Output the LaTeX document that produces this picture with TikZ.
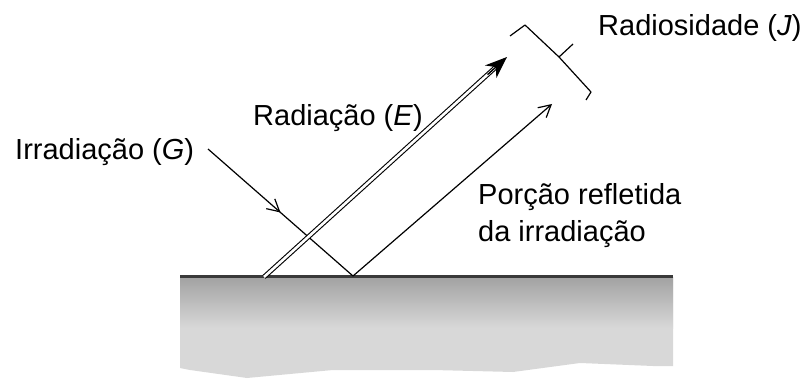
\documentclass[tikz,border=0pt]{standalone}
\usepackage{fontspec}
\setmainfont{Liberation Sans}
\usetikzlibrary{arrows.meta,decorations.markings,calc}
\definecolor{surfline}{HTML}{3A3A3A}
\definecolor{graytop}{HTML}{A2A2A2}
\definecolor{graylow}{HTML}{D8D8D8}
\tikzset{
  lbl/.style={anchor=base west,inner sep=0pt,font=\fontsize{29}{36}\selectfont},
  ray/.style={line width=1.2pt,black},
  openhead/.style={-{Straight Barb[length=12pt,width=13pt,line width=1.2pt]}},
  boldhead/.style={-{Stealth[length=22pt,width=17pt,inset=7pt]}},
  dbl/.style={double=white,double distance=2.6pt,line width=1.1pt,black},
}
\begin{document}
\begin{tikzpicture}[x=1pt,y=-1pt]
\useasboundingbox (0,0) rectangle (808,379);
% body
\fill[graylow] (180,277) -- (673,277) -- (673,366) -- (653,366) -- (580,363) -- (513,372) -- (433,370) -- (333,370) -- (247,378) -- (190,370) -- (180,368) -- cycle;
\shade[top color=graytop,bottom color=graylow] (180,277) rectangle (673,328);
\draw[surfline,line width=2.2pt] (180,276.5) -- (673,276.5);
% coordinates
\coordinate (g0) at (208,149);
\coordinate (p) at (353,276);
\coordinate (r1) at (552,104);
\coordinate (e0) at (264,277);
\coordinate (e1) at (507,57);
% rays
\draw[ray,postaction={decorate},decoration={markings,mark=at position 0.5 with {\arrow{Straight Barb[length=12pt,width=13pt,line width=1.2pt]}}}] (g0) -- (p);
\draw[ray,openhead] (p) -- (r1);
\draw[dbl,shorten >=12pt] (e0) -- (e1);
\draw[line width=1.4pt,boldhead] ($(e0)!0.92!(e1)$) -- (e1);
% brace
\draw[line width=1.2pt,line join=round] (510,36) -- (525,25) -- (559,57) -- (573,44);
\draw[line width=1.2pt,line join=round] (559,57) -- (591,92) -- (586,100);
% labels
\node[lbl] (rad) at (598,36) {Radiosidade (\textit{J})};
\node[lbl] (ema) at (253,126) {Radiação (\textit{E})};
\node[lbl] (irr) at (15,160) {Irradiação (\textit{G})};
\node[lbl] (por) at (478,205) {Porção refletida};
\node[lbl] (dai) at (478,242) {da irradiação};
\end{tikzpicture}
\end{document}
